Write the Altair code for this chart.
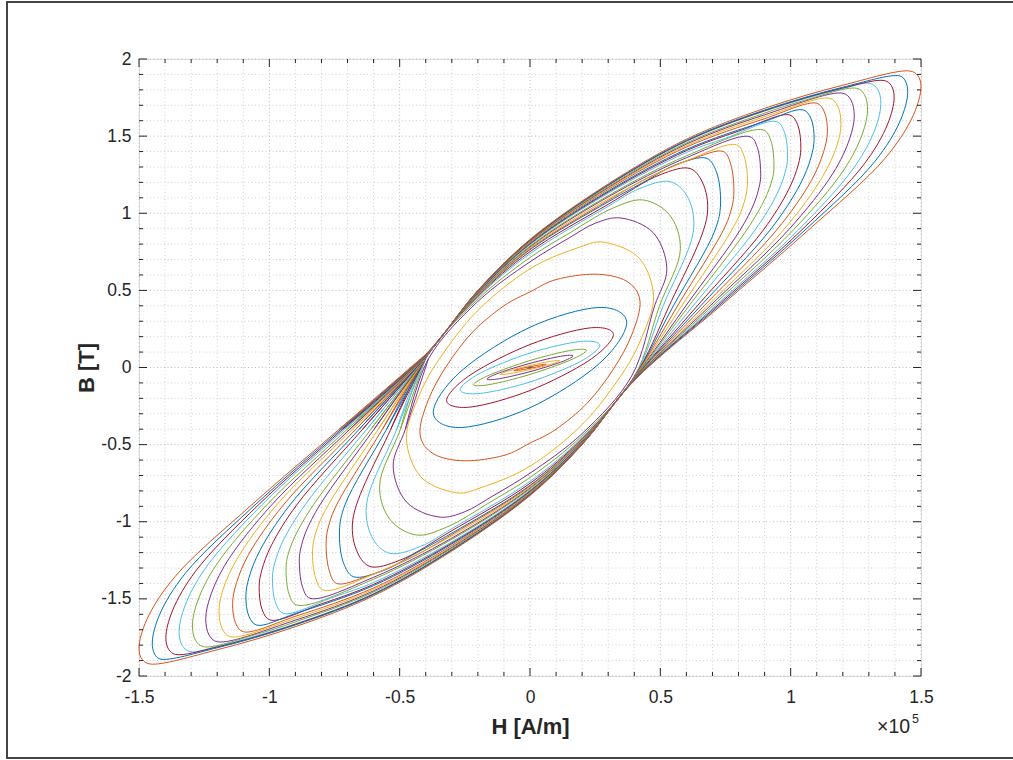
import altair as alt
import pandas as pd

# MATLAB default colour order
COLORS = ["#0072BD", "#D95319", "#EDB120", "#7E2F8E", "#77AC30", "#4DBEEE", "#A2142F"]

# Each list: descending half of loop k, starting at its right tip (H in 1e5 A/m, B in T).
# The other half of every loop is its point reflection through the origin.
loop01 = [(0.011, 0.0039), (0.0078, 0.0035), (0.0, 0.001), (-0.0078, -0.002)]
loop02 = [(0.062, 0.0203), (0.044, 0.0182), (0.0, 0.0054), (-0.044, -0.0105)]
loop03 = [(0.114, 0.044), (0.081, 0.0406), (0.0, 0.0134), (-0.081, -0.0216)]
loop04 = [(0.165, 0.075), (0.117, 0.0725), (0.0, 0.027), (-0.117, -0.034)]
loop05 = [(0.217, 0.111), (0.153, 0.110), (0.0, 0.045), (-0.153, -0.047)]
loop06 = [(0.268, 0.144), (0.190, 0.168), (0.0, 0.094), (-0.190, -0.036)]
loop07 = [(0.320, 0.213), (0.226, 0.256), (0.0, 0.149), (-0.226, -0.045)]
loop08 = [(0.371, 0.290), (0.262, 0.389), (0.0, 0.261), (-0.262, -0.020)]
loop09 = [(0.422, 0.43), (0.37, 0.56), (0.25, 0.605), (0.10, 0.57), (0.0, 0.49),
          (-0.10, 0.40), (-0.22, 0.23), (-0.32, 0.01), (-0.39, -0.21)]
loop10 = [(0.474, 0.46), (0.42, 0.707), (0.29, 0.81), (0.19, 0.78), (0.0, 0.64),
          (-0.2, 0.37), (-0.35, 0.05), (-0.43, -0.2)]
loop11 = [(0.525, 0.64), (0.472, 0.875), (0.345, 0.97), (0.25, 0.935), (0.15, 0.84),
          (0.0, 0.685), (-0.2, 0.428), (-0.39, 0.055), (-0.478, -0.40)]
loop12 = [(0.577, 0.77), (0.535, 0.99), (0.435, 1.086), (0.32, 1.035), (0.15, 0.87),
          (0.0, 0.713), (-0.2, 0.442), (-0.40, 0.058), (-0.497, -0.40)]
loop13 = [(0.628, 0.90), (0.601, 1.116), (0.537, 1.205), (0.42, 1.16), (0.3, 1.045),
          (0.0, 0.738), (-0.2, 0.454), (-0.40, 0.060), (-0.511, -0.40)]
loop14 = [(0.680, 0.99), (0.661, 1.202), (0.614, 1.29), (0.5, 1.25), (0.3, 1.058),
          (0.0, 0.751), (-0.2, 0.461), (-0.40, 0.061), (-0.534, -0.40)]
loop15 = [(0.731, 1.06), (0.715, 1.269), (0.678, 1.356), (0.56, 1.315), (0.45, 1.215),
          (0.3, 1.074), (0.0, 0.764), (-0.2, 0.467), (-0.40, 0.062), (-0.550, -0.40),
          (-0.710, -0.891)]
loop16 = [(0.782, 1.12), (0.770, 1.318), (0.742, 1.400), (0.62, 1.350), (0.45, 1.228),
          (0.3, 1.083), (0.0, 0.769), (-0.2, 0.469), (-0.40, 0.063), (-0.566, -0.40),
          (-0.742, -0.891), (-0.769, -1.006)]
loop17 = [(0.834, 1.18), (0.822, 1.366), (0.793, 1.443), (0.6, 1.340), (0.3, 1.092),
          (0.0, 0.774), (-0.2, 0.472), (-0.40, 0.064), (-0.582, -0.40), (-0.774, -0.891),
          (-0.815, -1.036)]
loop18 = [(0.885, 1.24), (0.873, 1.421), (0.844, 1.496), (0.6, 1.360), (0.3, 1.106),
          (0.0, 0.782), (-0.2, 0.476), (-0.40, 0.066), (-0.598, -0.40), (-0.806, -0.891),
          (-0.860, -1.066), (-0.879, -1.170)]
loop19 = [(0.936, 1.30), (0.924, 1.470), (0.895, 1.540), (0.6, 1.372), (0.3, 1.114),
          (0.0, 0.787), (-0.2, 0.478), (-0.40, 0.067), (-0.610, -0.40), (-0.831, -0.891),
          (-0.902, -1.096), (-0.929, -1.218)]
loop20 = [(0.988, 1.36), (0.976, 1.525), (0.946, 1.594), (0.75, 1.486), (0.6, 1.394),
          (0.3, 1.130), (0.0, 0.796), (-0.2, 0.483), (-0.40, 0.069), (-0.626, -0.40),
          (-0.863, -0.891), (-0.948, -1.126), (-0.979, -1.266)]
loop21 = [(1.039, 1.42), (1.027, 1.573), (0.997, 1.637), (0.8, 1.532), (0.6, 1.406),
          (0.3, 1.138), (0.0, 0.801), (-0.2, 0.485), (-0.40, 0.070), (-0.642, -0.40),
          (-0.895, -0.891), (-0.993, -1.156), (-1.029, -1.314)]
loop22 = [(1.090, 1.48), (1.078, 1.614), (1.048, 1.670), (0.9, 1.595), (0.6, 1.414),
          (0.3, 1.144), (0.0, 0.804), (-0.2, 0.487), (-0.40, 0.072), (-0.655, -0.40),
          (-0.921, -0.891), (-1.036, -1.186), (-1.078, -1.362)]
loop23 = [(1.141, 1.53), (1.129, 1.659), (1.100, 1.713), (0.9, 1.613), (0.6, 1.429),
          (0.3, 1.154), (0.0, 0.809), (-0.2, 0.490), (-0.40, 0.074), (-0.668, -0.40),
          (-0.946, -0.891), (-1.079, -1.211), (-1.127, -1.402)]
loop24 = [(1.193, 1.58), (1.180, 1.697), (1.150, 1.745), (0.9, 1.626), (0.6, 1.438),
          (0.3, 1.161), (0.0, 0.813), (-0.2, 0.492), (-0.40, 0.075), (-0.681, -0.40),
          (-0.972, -0.891), (-1.122, -1.236), (-1.178, -1.442)]
loop25 = [(1.244, 1.63), (1.231, 1.735), (1.200, 1.778), (0.9, 1.638), (0.6, 1.448),
          (0.3, 1.167), (0.0, 0.817), (-0.2, 0.494), (-0.40, 0.077), (-0.691, -0.40),
          (-0.991, -0.891), (-1.163, -1.261), (-1.226, -1.482)]
loop26 = [(1.295, 1.67), (1.283, 1.769), (1.253, 1.810), (1.05, 1.730), (0.9, 1.649),
          (0.6, 1.456), (0.3, 1.173), (0.0, 0.820), (-0.2, 0.495), (-0.40, 0.078),
          (-0.701, -0.40), (-1.010, -0.891), (-1.204, -1.281), (-1.275, -1.514)]
loop27 = [(1.346, 1.71), (1.334, 1.803), (1.304, 1.842), (1.2, 1.808), (0.9, 1.662),
          (0.6, 1.466), (0.3, 1.181), (0.0, 0.825), (-0.2, 0.497), (-0.40, 0.080),
          (-0.711, -0.40), (-1.029, -0.891), (-1.245, -1.301), (-1.324, -1.546)]
loop28 = [(1.397, 1.75), (1.386, 1.828), (1.360, 1.860), (1.2, 1.812), (0.9, 1.665),
          (0.6, 1.469), (0.3, 1.182), (0.0, 0.825), (-0.2, 0.498), (-0.40, 0.082),
          (-0.718, -0.40), (-1.042, -0.891), (-1.283, -1.321), (-1.372, -1.578)]
loop29 = [(1.449, 1.78), (1.440, 1.858), (1.419, 1.890), (1.2, 1.817), (0.9, 1.669),
          (0.6, 1.472), (0.3, 1.184), (0.0, 0.827), (-0.2, 0.498), (-0.40, 0.083),
          (-0.725, -0.40), (-1.055, -0.891), (-1.323, -1.336), (-1.421, -1.602)]
loop30 = [(1.500, 1.82), (1.488, 1.892), (1.458, 1.922), (1.2, 1.830), (0.9, 1.680),
          (0.6, 1.480), (0.3, 1.190), (0.0, 0.830), (-0.2, 0.500), (-0.40, 0.085),
          (-0.732, -0.40), (-1.068, -0.891), (-1.362, -1.356), (-1.470, -1.634)]

LOOPS = [loop01, loop02, loop03, loop04, loop05, loop06, loop07, loop08, loop09, loop10,
         loop11, loop12, loop13, loop14, loop15, loop16, loop17, loop18, loop19, loop20,
         loop21, loop22, loop23, loop24, loop25, loop26, loop27, loop28, loop29, loop30]

x_major = [-1.5, -1, -0.5, 0, 0.5, 1, 1.5]
x_minor = [-1.4, -1.3, -1.2, -1.1, -0.9, -0.8, -0.7, -0.6, -0.4, -0.3, -0.2, -0.1,
           0.1, 0.2, 0.3, 0.4, 0.6, 0.7, 0.8, 0.9, 1.1, 1.2, 1.3, 1.4]
y_major = [-2, -1.5, -1, -0.5, 0, 0.5, 1, 1.5, 2]
y_minor = [-1.9, -1.8, -1.7, -1.6, -1.4, -1.3, -1.2, -1.1, -0.9, -0.8, -0.7, -0.6,
           -0.4, -0.3, -0.2, -0.1, 0.1, 0.2, 0.3, 0.4, 0.6, 0.7, 0.8, 0.9,
           1.1, 1.2, 1.3, 1.4, 1.6, 1.7, 1.8, 1.9]

# Loops 1-10 (evenly spaced points): closed cardinal curve.
# Loops 11-30: centripetal Catmull-Rom; the path starts at the pinch point of the
# upper branch, runs once round and repeats the short straight pinch segment.
small_rows, big_rows = [], []
for k, half in enumerate(LOOPS, start=1):
    pts = list(half) + [(-h, -b) for h, b in half]
    col = COLORS[(k - 1) % 7]
    if k <= 10:
        seq, target = pts, small_rows
    else:
        j = next(n for n, (h, b) in enumerate(half) if h <= -0.385)
        seq, target = pts[j:] + pts[:j] + [pts[j], pts[j + 1]], big_rows
    for i, (h, b) in enumerate(seq):
        target.append({"loop": k, "i": i, "h": h, "b": b, "col": col})
df_small = pd.DataFrame(small_rows)
df_big = pd.DataFrame(big_rows)

W, H = 782, 617
FONT = "Liberation Sans"
AX = "#262626"

xs = alt.Scale(domain=[-1.5, 1.5], nice=False, zero=False)
ys = alt.Scale(domain=[-2, 2], nice=False, zero=False)

xaxis = alt.Axis(values=x_major, labelExpr="'' + datum.value", grid=False, ticks=False,
                 domain=False, tickSize=0, labelPadding=12, labelFont=FONT,
                 labelFontSize=17.5, labelColor=AX, labelFlush=False, labelOverlap=False,
                 title="H [A/m]", titleFont=FONT, titleFontSize=22, titleFontWeight="bold",
                 titleColor=AX, titleX=W / 2, titleY=50, titleBaseline="middle",
                 titleAlign="center")
yaxis = alt.Axis(values=y_major, labelExpr="'' + datum.value", grid=False, ticks=False,
                 domain=False, tickSize=0, labelPadding=8, labelFont=FONT,
                 labelFontSize=17.5, labelColor=AX, labelFlush=False, labelOverlap=False,
                 title="B [T]", titleFont=FONT, titleFontSize=22, titleFontWeight="bold",
                 titleColor=AX, titleAngle=270, titleX=-53, titleY=H / 2,
                 titleBaseline="middle", titleAlign="center")

X = alt.X("h:Q", scale=xs, axis=xaxis)
Y = alt.Y("b:Q", scale=ys, axis=yaxis)

dxmaj = pd.DataFrame({"h": x_major})
dxmin = pd.DataFrame({"h": x_minor})
dymaj = pd.DataFrame({"b": y_major})
dymin = pd.DataFrame({"b": y_minor})

gx_min = alt.Chart(dxmin).mark_rule(color="#d0d0d0", strokeWidth=1, strokeDash=[1, 2.5]).encode(x=X)
gx_maj = alt.Chart(dxmaj).mark_rule(color="#bdbdbd", strokeWidth=1, strokeDash=[1, 2.5]).encode(x=X)
gy_min = alt.Chart(dymin).mark_rule(color="#d0d0d0", strokeWidth=1, strokeDash=[1, 2.5]).encode(y=Y)
gy_maj = alt.Chart(dymaj).mark_rule(color="#bdbdbd", strokeWidth=1, strokeDash=[1, 2.5]).encode(y=Y)

lines_small = alt.Chart(df_small).mark_line(interpolate="cardinal-closed", strokeWidth=1).encode(
    x=X, y=Y, detail="loop:N", color=alt.Color("col:N", scale=None), order="i:Q")
lines_big = alt.Chart(df_big).mark_line(interpolate="catmull-rom", strokeWidth=1).encode(
    x=X, y=Y, detail="loop:N", color=alt.Color("col:N", scale=None), order="i:Q")

def xticks(data, y0, y1):
    return alt.Chart(data).mark_rule(color=AX, strokeWidth=1).encode(
        x=X, y=alt.value(y0), y2=alt.value(y1))

def yticks(data, x0, x1):
    return alt.Chart(data).mark_rule(color=AX, strokeWidth=1).encode(
        y=Y, x=alt.value(x0), x2=alt.value(x1))

ticks = [
    xticks(dxmaj, H, H - 8), xticks(dxmaj, 0, 8),
    xticks(dxmin, H, H - 4), xticks(dxmin, 0, 4),
    yticks(dymaj, 0, 8), yticks(dymaj, W, W - 8),
    yticks(dymin, 0, 4), yticks(dymin, W, W - 4),
]

one = pd.DataFrame({"t": ["×10"]})
five = pd.DataFrame({"t": ["5"]})
exp_base = alt.Chart(one).mark_text(font=FONT, fontSize=19.5, color=AX, align="left",
                                    baseline="alphabetic").encode(
    text="t:N", x=alt.value(738), y=alt.value(674))
exp_pow = alt.Chart(five).mark_text(font=FONT, fontSize=12.5, color=AX, align="left",
                                    baseline="alphabetic").encode(
    text="t:N", x=alt.value(773), y=alt.value(664))

frame = alt.Chart(pd.DataFrame({"a": [1]})).mark_rect(
    fill="transparent", stroke="#444444", strokeWidth=2).encode(
    x=alt.value(-132), x2=alt.value(890), y=alt.value(-57), y2=alt.value(699))

chart = alt.layer(gx_min, gx_maj, gy_min, gy_maj, lines_small, lines_big, *ticks,
                  exp_base, exp_pow, frame).properties(
    width=W, height=H,
    padding={"left": 139, "top": 59, "right": 92, "bottom": 84},
    autosize=alt.AutoSizeParams(type="none"),
).configure_view(stroke=AX, strokeWidth=1.2).configure(background="white")

chart.save("out.html", embed_options={"renderer": "svg", "actions": False})
